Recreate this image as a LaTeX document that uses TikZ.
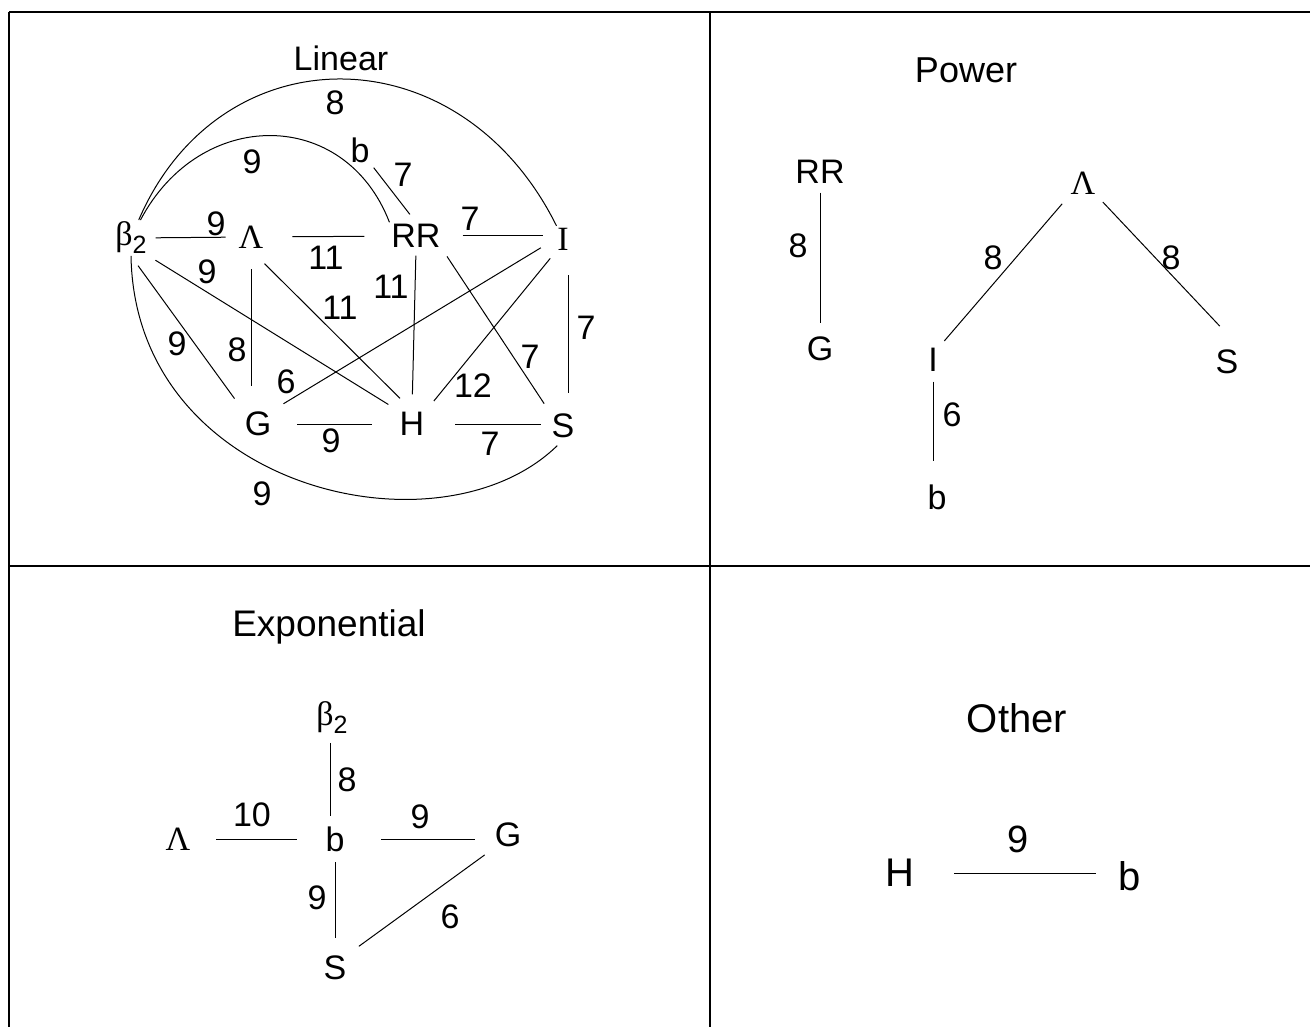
\documentclass[tikz,border=0pt]{standalone}
\usepackage{fontspec}
\setmainfont{Liberation Sans}
\newfontfamily\grk{Liberation Serif}
\usetikzlibrary{calc}
\newcommand{\btwo}{{\grk β}\raisebox{-8pt}{\fontsize{25}{30}\selectfont 2}}

\begin{document}
\begin{tikzpicture}[
  x=1pt,y=-1pt,
  vtx/.style={inner sep=2pt,outer sep=0pt,font={\fontsize{34}{40}\selectfont}},
  lbl/.style={inner sep=1pt,font={\fontsize{34}{40}\selectfont}},
  ttl/.style={inner sep=1pt,font={\fontsize{36}{43}\selectfont}},
  big/.style={font={\fontsize{40}{48}\selectfont}},
  link/.style={line width=1pt},
  frame/.style={line width=1.8pt}
]
\useasboundingbox (0,0) rectangle (1310,1027);

% table
\draw[frame] (9,12) -- (1310,12);
\draw[frame] (9,566) -- (1310,566);
\draw[line width=1.3pt] (9,12) -- (9,1027);
\draw[line width=1.3pt] (710,12) -- (710,1027);

% Linear
\node[ttl,font={\fontsize{34}{40}\selectfont}] (tlin) at (341,58) {Linear};
\node[vtx] (lb2) at (131,238) {\btwo};
\node[vtx] (lL) at (251,237) {\grk Λ};
\node[vtx] (lRR) at (416,236) {RR};
\node[vtx] (lI) at (563,239) {\grk I};
\node[vtx] (lG) at (258,424) {G};
\node[vtx] (lH) at (412,424) {H};
\node[vtx] (lS) at (563,426) {S};
\node[vtx] (lb) at (360,150) {b};
\draw[link] (lb2) .. controls (220,31) and (460,31) .. (lI);
\draw[link] (lb2) .. controls (200,107) and (345,107) .. (lRR.north west);
\draw[link,shorten >=8pt] (lb2.south) .. controls (135,490) and (440,560) .. (lS.south);
\draw[link,shorten <=7pt,shorten >=11pt] (lb2) -- (lL);
\draw[link,shorten <=27pt,shorten >=25pt] (lL) -- (lRR);
\draw[link,shorten <=20pt,shorten >=20pt] (lRR) -- (lRR -| lI);
\draw[link,shorten <=4pt,shorten >=10pt] (lb) -- (lRR.north);
\draw[link,shorten <=8pt,shorten >=11pt] (lb2.south east) -- (lH.north west);
\draw[link,shorten <=12pt,shorten >=14pt] (lb2.south) -- (lG.north west);
\draw[link,shorten <=19pt,shorten >=24pt] (lL.south) -- (lL.south |- lG.north);
\draw[link,shorten <=19pt,shorten >=17pt] (lL.south) -- (lH.north);
\draw[link,shorten <=6pt,shorten >=16pt] (lRR.south) -- (lH.north);
\draw[link,shorten <=8pt,shorten >=10pt] (lRR.south east) -- (lS.north west);
\draw[link,shorten <=17pt,shorten >=12pt] (lI.west) -- (lG.north east);
\draw[link,shorten <=8pt,shorten >=12pt] (lI.south west) -- (lH.north east);
\draw[link,shorten <=23pt,shorten >=19pt] ([xshift=5pt]lI.south) -- ([xshift=5pt]lS.north);
\draw[link,shorten <=24pt,shorten >=26pt] (lG) -- (lH);
\draw[link,shorten <=29pt,shorten >=22pt] (lH) -- (lH -| lS);
\node[lbl] (wa) at (335,103) {8};
\node[lbl] (wb) at (252,162) {9};
\node[lbl] (wc) at (403,175) {7};
\node[lbl] (wd) at (216,224) {9};
\node[lbl] (we) at (470,219) {7};
\node[lbl] (wf) at (326,258) {11};
\node[lbl] (wg) at (207,272) {9};
\node[lbl] (wh) at (391,287) {11};
\node[lbl] (wi) at (340,308) {11};
\node[lbl] (wj) at (586,328) {7};
\node[lbl] (wk) at (177,344) {9};
\node[lbl] (wl) at (237,350) {8};
\node[lbl] (wm) at (530,357) {7};
\node[lbl] (wn) at (286,382) {6};
\node[lbl] (wo) at (473,386) {12};
\node[lbl] (wp) at (331,441) {9};
\node[lbl] (wq) at (490,444) {7};
\node[lbl] (wr) at (262,494) {9};

% Power
\node[ttl] (tpow) at (966,70) {Power};
\node[vtx] (pRR) at (820,172) {RR};
\node[vtx] (pG) at (820,349) {G};
\node[vtx] (pL) at (1083,183) {\grk Λ};
\node[vtx] (pI) at (933,360) {I};
\node[vtx] (pS) at (1227,362) {S};
\node[vtx] (pb) at (937,497) {b};
\draw[link,shorten <=7pt,shorten >=12pt] (pRR) -- (pG);
\draw[link,shorten <=10pt,shorten >=7pt] (pL.south west) -- (pI.north east);
\draw[link,shorten <=8pt,shorten >=30pt] (pL.south east) -- (pS.north east);
\draw[link,shorten <=8pt,shorten >=22pt] (pI.south) -- (pI.south |- pb.north);
\node[lbl] (pwa) at (798,246) {8};
\node[lbl] (pwb) at (993,258) {8};
\node[lbl] (pwc) at (1171,258) {8};
\node[lbl] (pwd) at (952,415) {6};

% Exponential
\node[ttl,font={\fontsize{37}{44}\selectfont}] (texp) at (329,627) {Exponential};
\node[vtx] (eb2) at (332,718) {\btwo};
\node[vtx] (eL) at (178,839) {\grk Λ};
\node[vtx] (eb) at (335,839) {b};
\node[vtx] (eG) at (508,835) {G};
\node[vtx] (eS) at (335,968) {S};
\draw[link,shorten <=7pt,shorten >=9pt] ([xshift=-2pt]eb2.south) -- ([xshift=-2pt]eb2.south |- eb.north);
\draw[link,shorten <=24pt,shorten >=27pt] (eL) -- (eb);
\draw[link,shorten <=35pt,shorten >=33pt] (eb) -- (eb -| eG);
\draw[link,shorten <=9pt,shorten >=16pt] (eb) -- (eS);
\draw[link,shorten <=13pt,shorten >=10pt] (eS.north east) -- (eG.south west);
\node[lbl] (ewa) at (347,780) {8};
\node[lbl] (ewb) at (252,815) {10};
\node[lbl] (ewc) at (420,817) {9};
\node[lbl] (ewd) at (317,898) {9};
\node[lbl] (ewe) at (450,917) {6};

% Other
\node[ttl,big] (toth) at (1017,718) {Other};
\node[vtx,big] (oH) at (900,873) {H};
\node[vtx,big] (ob) at (1130,876) {b};
\draw[link,shorten <=38pt,shorten >=34pt] (oH) -- (oH -| ob);
\node[lbl,font={\fontsize{38}{46}\selectfont}] (owa) at (1018,839) {9};
\end{tikzpicture}
\end{document}
